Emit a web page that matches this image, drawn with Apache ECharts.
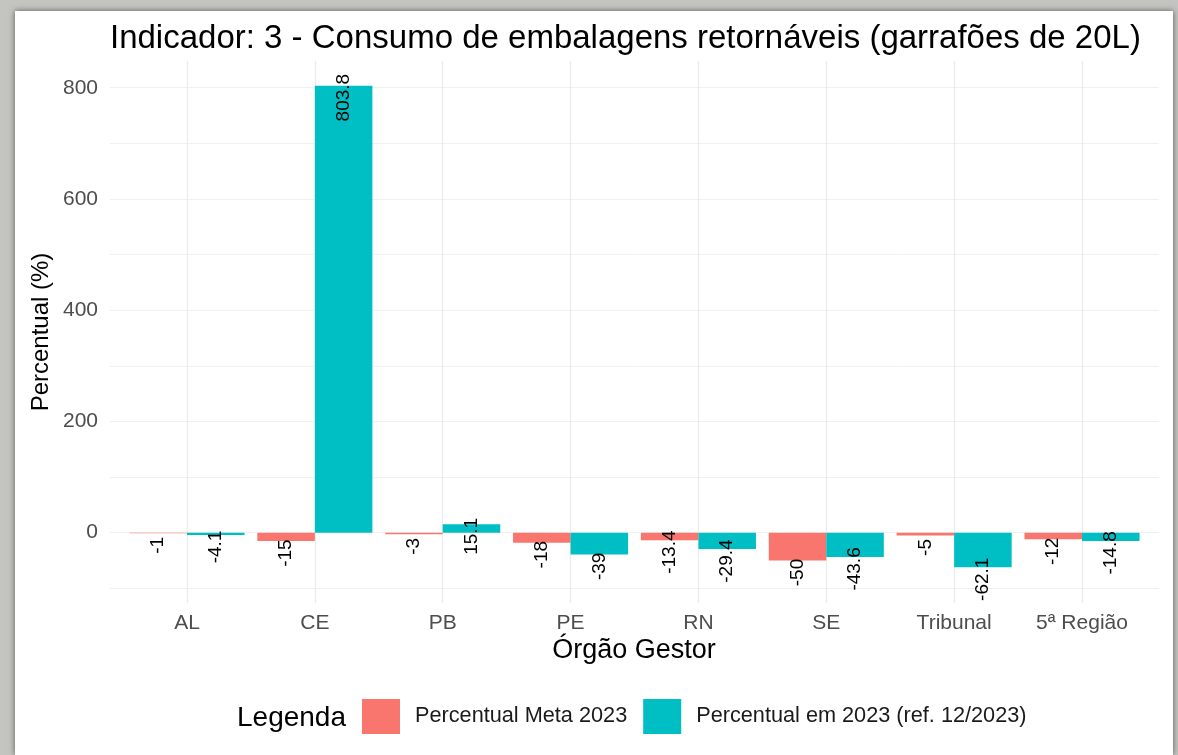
<!DOCTYPE html>
<html>
<head>
<meta charset="utf-8">
<script src="https://cdn.jsdelivr.net/npm/echarts@6/dist/echarts.min.js"></script>
<style>
    html, body { margin: 0; padding: 0; width: 1178px; height: 755px; overflow: hidden; background: #c4c5c0; }
    #painel { position: absolute; left: 15px; top: 11px; width: 1158px; height: 744px; background: #fff; box-shadow: 0 0 6px rgba(0,0,0,0.55); }
</style>
</head>
<body>
<div id="painel"></div>
<script>
// dados do indicador 3
var categorias = ['AL', 'CE', 'PB', 'PE', 'RN', 'SE', 'Tribunal', '5ª Região'];
var metaPerc = [-1, -15, -3, -18, -13.4, -50, -5, -12];
var atualPerc = [-4.1, 803.8, 15.1, -39, -29.4, -43.6, -62.1, -14.8];
var nomesSerie = ['Percentual Meta 2023', 'Percentual em 2023 (ref. 12/2023)'];

var corMeta = '#F8766D';
var corAtual = '#00BFC4';
var fonte = 'Liberation Sans, Arial, sans-serif';

// faixa do eixo como no ggplot (rótulos deslocados 20 e expansão de 5%)
var todos = metaPerc.concat(atualPerc);
var lo = Math.min.apply(null, todos) - 20;
var hi = Math.max.apply(null, todos);
var yMin = lo - (hi - lo) * 0.05;
var yMax = hi + (hi - lo) * 0.05;

//posiciona o rótulo logo após a ponta da barra
function posRotulo(valores) {
    return function (p) {
        var v = valores[p.dataIndex];
        var r = p.rect;
        return { x: r.x + r.width / 2, y: (v >= 0 ? r.y : r.y + r.height) + 12 };
    };
}

var rotulo = {
    show: true, position: 'inside', rotate: 90, align: 'center', verticalAlign: 'middle',
    color: '#000', fontSize: 19, fontFamily: fonte, formatter: '{c}'
};

var myChart = echarts.init(document.getElementById('painel'));
var option = {
    animation: false,
    textStyle: { fontFamily: fonte },
    grid: [
        { left: 95, top: 50, width: 1049, height: 542 },
        { left: 172, top: 50, width: 895, height: 542 }
    ],
    xAxis: [
        { gridIndex: 0, type: 'value', min: 0, max: 1, show: false },
        {
            gridIndex: 1, type: 'category', data: categorias, boundaryGap: false,
            axisLine: { show: false }, axisTick: { show: false },
            axisLabel: { color: '#4d4d4d', fontSize: 21, margin: 10, fontFamily: fonte },
            splitLine: { show: true, lineStyle: { color: '#ebebeb', width: 1.2 } }
        }
    ],
    yAxis: [
        {
            gridIndex: 0, type: 'value', min: yMin, max: yMax, splitNumber: 5,
            axisLine: { show: false }, axisTick: { show: false },
            axisLabel: { color: '#4d4d4d', fontSize: 21, margin: 12, showMinLabel: false, showMaxLabel: false, fontFamily: fonte },
            splitLine: { show: true, showMinLine: false, showMaxLine: false, lineStyle: { color: '#ebebeb', width: 1.2 } }
        },
        {
            gridIndex: 0, type: 'value', min: yMin, max: yMax, splitNumber: 10,
            axisLine: { show: false }, axisTick: { show: false }, axisLabel: { show: false },
            splitLine: { show: true, showMinLine: false, showMaxLine: false, lineStyle: { color: '#f0f0f0', width: 1 } }
        },
        { gridIndex: 1, type: 'value', min: yMin, max: yMax, show: false }
    ],
    legend: {
        data: nomesSerie, left: 342, top: 683, icon: 'rect', itemWidth: 38, itemHeight: 35, itemGap: 16,
        textStyle: { fontSize: 21.7, color: '#1a1a1a', padding: [0, 0, 0, 10], fontFamily: fonte }
    },
    graphic: [
        { type: 'text', left: 95, top: 11, style: { text: 'Indicador: 3 - Consumo de embalagens retornáveis (garrafões de 20L)', font: '33px ' + fonte, fill: '#000' } },
        { type: 'text', x: 26, y: 321, rotation: Math.PI / 2, style: { text: 'Percentual (%)', font: '24px ' + fonte, fill: '#000', align: 'center', verticalAlign: 'middle' } },
        { type: 'text', x: 619, y: 640, style: { text: 'Órgão Gestor', font: '27px ' + fonte, fill: '#000', align: 'center', verticalAlign: 'middle' } },
        { type: 'text', x: 222, y: 707, style: { text: 'Legenda', font: '28px ' + fonte, fill: '#000', align: 'left', verticalAlign: 'middle' } }
    ],
    series: [
        {
            name: nomesSerie[0], type: 'bar', xAxisIndex: 1, yAxisIndex: 2, data: metaPerc,
            barGap: '0%', barCategoryGap: '10%', clip: false,
            itemStyle: { color: corMeta }, label: rotulo, labelLayout: posRotulo(metaPerc)
        },
        {
            name: nomesSerie[1], type: 'bar', xAxisIndex: 1, yAxisIndex: 2, data: atualPerc,
            barGap: '0%', barCategoryGap: '10%', clip: false,
            itemStyle: { color: corAtual }, label: rotulo, labelLayout: posRotulo(atualPerc)
        }
    ]
};
myChart.setOption(option);
</script>
</body>
</html>
